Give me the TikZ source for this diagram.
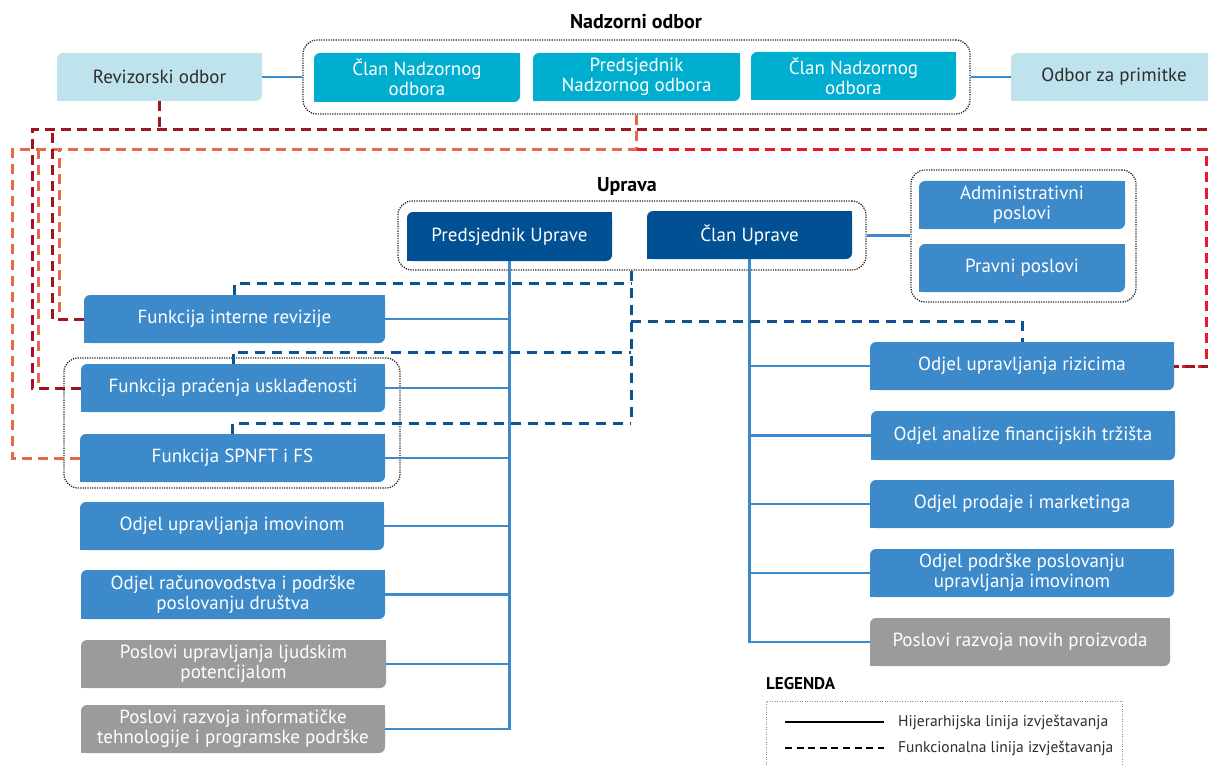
\documentclass[tikz,border=0pt]{standalone}
\usepackage{fontspec}
\setmainfont{PT Sans}
\usetikzlibrary{calc}
\definecolor{lblue}{RGB}{191,227,236}
\definecolor{cyanb}{RGB}{0,174,207}
\definecolor{dblueb}{RGB}{0,80,147}
\definecolor{mblue}{RGB}{61,138,202}
\definecolor{grayb}{RGB}{155,155,155}
\definecolor{hblue}{RGB}{61,138,202}
\definecolor{dashblue}{RGB}{15,82,148}
\definecolor{crdark}{RGB}{160,20,32}
\definecolor{crsalmon}{RGB}{234,100,80}
\definecolor{crbright}{RGB}{226,30,45}
\definecolor{txtdark}{RGB}{45,45,45}
\tikzset{
  orgbox/.style={rounded corners=6pt, inner sep=0pt, align=center, font=\fontsize{19}{20}\selectfont},
  grpbox/.style={draw=black!85, line width=1.3pt, dash pattern=on 1.2pt off 1.2pt, rounded corners=14pt, inner sep=0pt},
  hier/.style={draw=hblue, line width=2.7pt},
  bdash/.style={draw=dashblue, line width=3pt, dash pattern=on 10pt off 7pt},
  redA/.style={draw=crdark, line width=3pt, dash pattern=on 10pt off 6pt},
  redB/.style={draw=crsalmon, line width=3pt, dash pattern=on 10pt off 6pt},
  redC/.style={draw=crbright, line width=3pt, dash pattern=on 10pt off 6pt},
  titlet/.style={font=\fontsize{20}{22}\selectfont\bfseries, inner sep=0pt},
  legtitle/.style={font=\fontsize{17}{18}\selectfont\bfseries, inner sep=0pt, anchor=west},
  legtext/.style={font=\fontsize{15.5}{16}\selectfont, text=txtdark, inner sep=0pt, anchor=west},
}
\newcommand\obox[8]{%
  \node[orgbox, fill=#2, text=#3, minimum width={#6pt-#4pt}, minimum height={#7pt-#5pt}] (#1) at ({(#4+#6)/2},{(#5+#7)/2}) {#8};
  \fill[#2] (#1.north east) rectangle ++(-8pt,-8pt);
  \fill[#2] (#1.south west) rectangle ++(8pt,8pt);
}
\newcommand\grp[5]{%
  \node[grpbox, minimum width={#4pt-#2pt}, minimum height={#5pt-#3pt}] (#1) at ({(#2+#4)/2},{(#3+#5)/2}) {};
}
\begin{document}
\begin{tikzpicture}[x=1pt,y=-1pt]
\useasboundingbox (0,0) rectangle (1208,765);

% titles
\node[titlet] (tnad) at (636,22) {Nadzorni odbor};
\node[titlet] (tupr) at (627,187) {Uprava};

% groups
\grp{nadz}{303}{40}{970}{114}
\grp{uprg}{398}{201}{866}{270}
\grp{admg}{911}{170}{1136}{302}
\grp{compg}{64}{358}{400}{488}

% top row
\obox{rev}{lblue}{txtdark}{57}{53}{262}{101}{Revizorski odbor}
\obox{cn1}{cyanb}{white}{314}{53}{520}{102}{Član Nadzornog\\odbora}
\obox{pno}{cyanb}{white}{533}{53}{740}{101}{Predsjednik\\Nadzornog odbora}
\obox{cn2}{cyanb}{white}{751}{52}{956}{100}{Član Nadzornog\\odbora}
\obox{ozp}{lblue}{txtdark}{1011}{53}{1217}{101}{Odbor za primitke}

% management
\obox{pu}{dblueb}{white}{407}{212}{612}{261}{Predsjednik Uprave}
\obox{cu}{dblueb}{white}{647}{211}{852}{259}{Član Uprave}
\obox{adm}{mblue}{white}{919}{181}{1125}{229}{Administrativni\\poslovi}
\obox{prav}{mblue}{white}{919}{244}{1125}{292}{Pravni poslovi}

% left column
\obox{fir}{mblue}{white}{84}{295}{385}{343}{Funkcija interne revizije}
\obox{fpu}{mblue}{white}{81}{364}{385}{412}{Funkcija praćenja usklađenosti}
\obox{spn}{mblue}{white}{80}{434}{385}{482}{Funkcija SPNFT i FS}
\obox{oui}{mblue}{white}{80}{502}{384}{550}{Odjel upravljanja imovinom}
\obox{orp}{mblue}{white}{81}{570}{385}{619}{Odjel računovodstva i podrške\\poslovanju društva}
\obox{pulj}{grayb}{white}{81}{640}{386}{688}{Poslovi upravljanja ljudskim\\potencijalom}
\obox{prit}{grayb}{white}{81}{705}{385}{753}{Poslovi razvoja informatičke\\tehnologije i programske podrške}

% right column
\obox{our}{mblue}{white}{870}{342}{1174}{390}{Odjel upravljanja rizicima}
\obox{oaf}{mblue}{white}{871}{411}{1175}{460}{Odjel analize financijskih tržišta}
\obox{opm}{mblue}{white}{870}{480}{1174}{528}{Odjel prodaje i marketinga}
\obox{opp}{mblue}{white}{870}{549}{1174}{597}{Odjel podrške poslovanju\\upravljanja imovinom}
\obox{prnp}{grayb}{white}{870}{618}{1170}{666}{Poslovi razvoja novih proizvoda}

% solid connectors
\draw[hier] (rev.east) -- (nadz.west);
\draw[hier] (nadz.east) -- (ozp.west);
\draw[hier] (uprg.east) -- (uprg.east -| admg.west);
\draw[hier] (pu.south) |- (prit.east);
\foreach \n in {fir,fpu,spn,oui,orp,pulj} \draw[hier] (\n.east) -- (\n.east -| pu.south);
\draw[hier] (cu.south) |- (prnp.west);
\foreach \n in {our,oaf,opm,opp} \draw[hier] (\n.west) -- (\n.west -| cu.south);

% functional (blue dashed)
\coordinate (b1) at (631,283);
\coordinate (b2) at (631,352);
\coordinate (b3) at (631,423);
\coordinate (b4) at (631,321);
\draw[bdash] (uprg.south -| b1) -- (b3);
\draw[bdash] (fir.north) |- (b1);
\draw[bdash] (fpu.north) |- (b2);
\draw[bdash] (spn.north) |- (b3);
\draw[bdash] (b4) -| (our.north);

% functional (red dashed)
\coordinate (yA) at (0,130);
\coordinate (yB) at (0,150);
\coordinate (rA1) at (32,130);
\coordinate (rA2) at (52,130);
\coordinate (rA3) at (1214,130);
\coordinate (rB1) at (12,150);
\coordinate (rB2) at (38,150);
\coordinate (rB3) at (59,150);
\coordinate (rC1) at (1206,150);
\draw[redB] (spn.west) -| (rB1) -- (pno.south |- yB);
\draw[redB] (fpu.west) -| (rB2);
\draw[redB] (fir.west) -| (rB3);
\draw[redB] (pno.south |- nadz.south) -- (pno.south |- yB);
\draw[redC] (pno.south |- yB) -- (rC1) |- (our.east);
\draw[redA] (rev.south) -- (rev.south |- yA);
\draw[redA] (fpu.west) -| (rA1) -- (rA3) |- (our.east);
\draw[redA] (fir.west) -| (rA2);

% legend
\node[legtitle] (legt) at (766,684) {LEGENDA};
\node[draw=black!45, line width=1pt, dash pattern=on 1pt off 1.5pt, minimum width=356pt, minimum height=90pt, inner sep=0pt] (legb) at (944,746) {};
\coordinate (la1) at (785,722);
\coordinate (la2) at (884,722);
\coordinate (lb1) at (785,748);
\coordinate (lb2) at (884,748);
\draw[line width=1.7pt, black] (la1) -- (la2);
\draw[line width=1.7pt, black, dash pattern=on 7pt off 4.6pt] (lb1) -- (lb2);
\node[legtext] (lt1) at (898,722) {Hijerarhijska linija izvještavanja};
\node[legtext] (lt2) at (898,748) {Funkcionalna linija izvještavanja};
\end{tikzpicture}
\end{document}
